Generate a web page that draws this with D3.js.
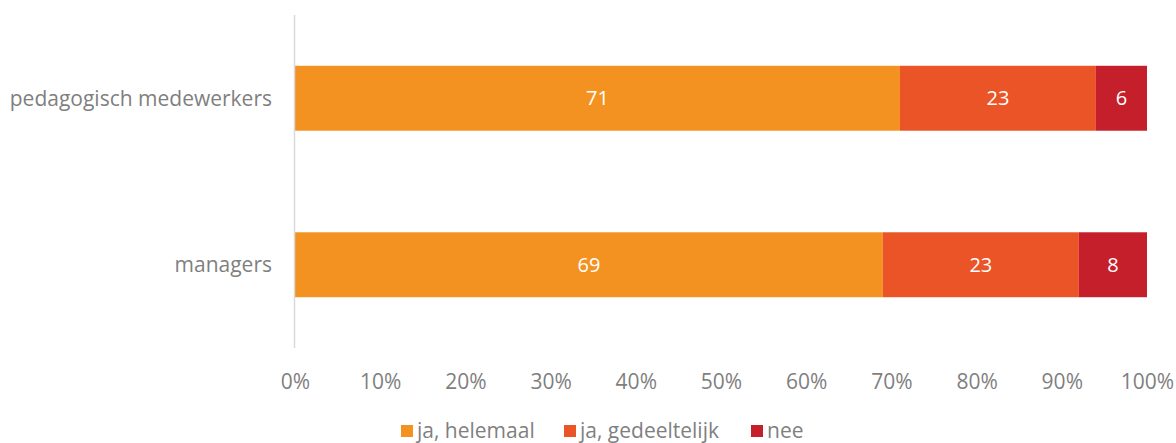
<!DOCTYPE html>
<html><head><meta charset="utf-8">
<script src="https://cdn.jsdelivr.net/npm/d3@7"></script>
<style>body{margin:0;background:#fff}svg{display:block;font-family:"Open Sans",sans-serif}</style>
</head><body>
<svg id="c" width="1176" height="443"></svg>
<script>
const categories = ["pedagogisch medewerkers", "managers"];
const seriesNames = ["ja, helemaal", "ja, gedeeltelijk", "nee"];
const helemaal = [71, 69];
const gedeeltelijk = [23, 23];
const nee = [6, 8];
const colors = ["#F39221", "#EB5426", "#C41F2B"];
const tickValues = [0,10,20,30,40,50,60,70,80,90,100];

const svg = d3.select("#c");
const x = d3.scaleLinear().domain([0,100]).range([295,1147]);
const y = d3.scaleBand().domain(categories).range([15,348]).paddingInner(0.61).paddingOuter(0.305);

const data = categories.map((c,i)=>({cat:c, helemaal:helemaal[i], gedeeltelijk:gedeeltelijk[i], nee:nee[i]}));
const keys = ["helemaal","gedeeltelijk","nee"];
const stack = d3.stack().keys(keys)(data);

const g = svg.append("g");
stack.forEach((s,si)=>{
  g.selectAll(null).data(s).join("rect")
    .attr("x",d=>x(d[0])).attr("width",d=>x(d[1])-x(d[0]))
    .attr("y",d=>y(d.data.cat)).attr("height",y.bandwidth())
    .attr("fill",colors[si]);
  g.selectAll(null).data(s).join("text")
    .attr("x",d=>(x(d[0])+x(d[1]))/2).attr("y",d=>y(d.data.cat)+y.bandwidth()/2)
    .attr("dy","0.35em").attr("text-anchor","middle").attr("fill","#fff")
    .attr("font-size",20).text(d=>d[1]-d[0]);
});

// y axis line
svg.append("line").attr("x1",294.5).attr("x2",294.5).attr("y1",15).attr("y2",348)
  .attr("stroke","#D9D9D9").attr("stroke-width",1.5);

// category labels
svg.selectAll(".cl").data(categories).join("text")
  .attr("x",272).attr("y",d=>y(d)+y.bandwidth()/2).attr("dy","0.35em")
  .attr("text-anchor","end").attr("fill","#7F7F7F").attr("font-size",21).text(d=>d);

// x axis
const xa = d3.axisBottom(x).tickValues(tickValues).tickFormat(d=>d+"%").tickSize(0).tickPadding(0);
const ax = svg.append("g").attr("transform","translate(0,374)").call(xa);
ax.select(".domain").remove();
ax.selectAll("text").attr("fill","#7F7F7F").attr("font-size",21).attr("font-family","Open Sans").attr("dy","0.71em");

// legend
const legX = [401, 564, 751];
const leg = svg.selectAll(".lg").data(seriesNames).join("g").attr("transform",(d,i)=>`translate(${legX[i]},425)`);
leg.append("rect").attr("width",12).attr("height",12).attr("fill",(d,i)=>colors[i]);
leg.append("text").attr("x",16).attr("y",6).attr("dy","0.35em").attr("fill","#7F7F7F").attr("font-size",21).text(d=>d);
</script>
</body></html>
